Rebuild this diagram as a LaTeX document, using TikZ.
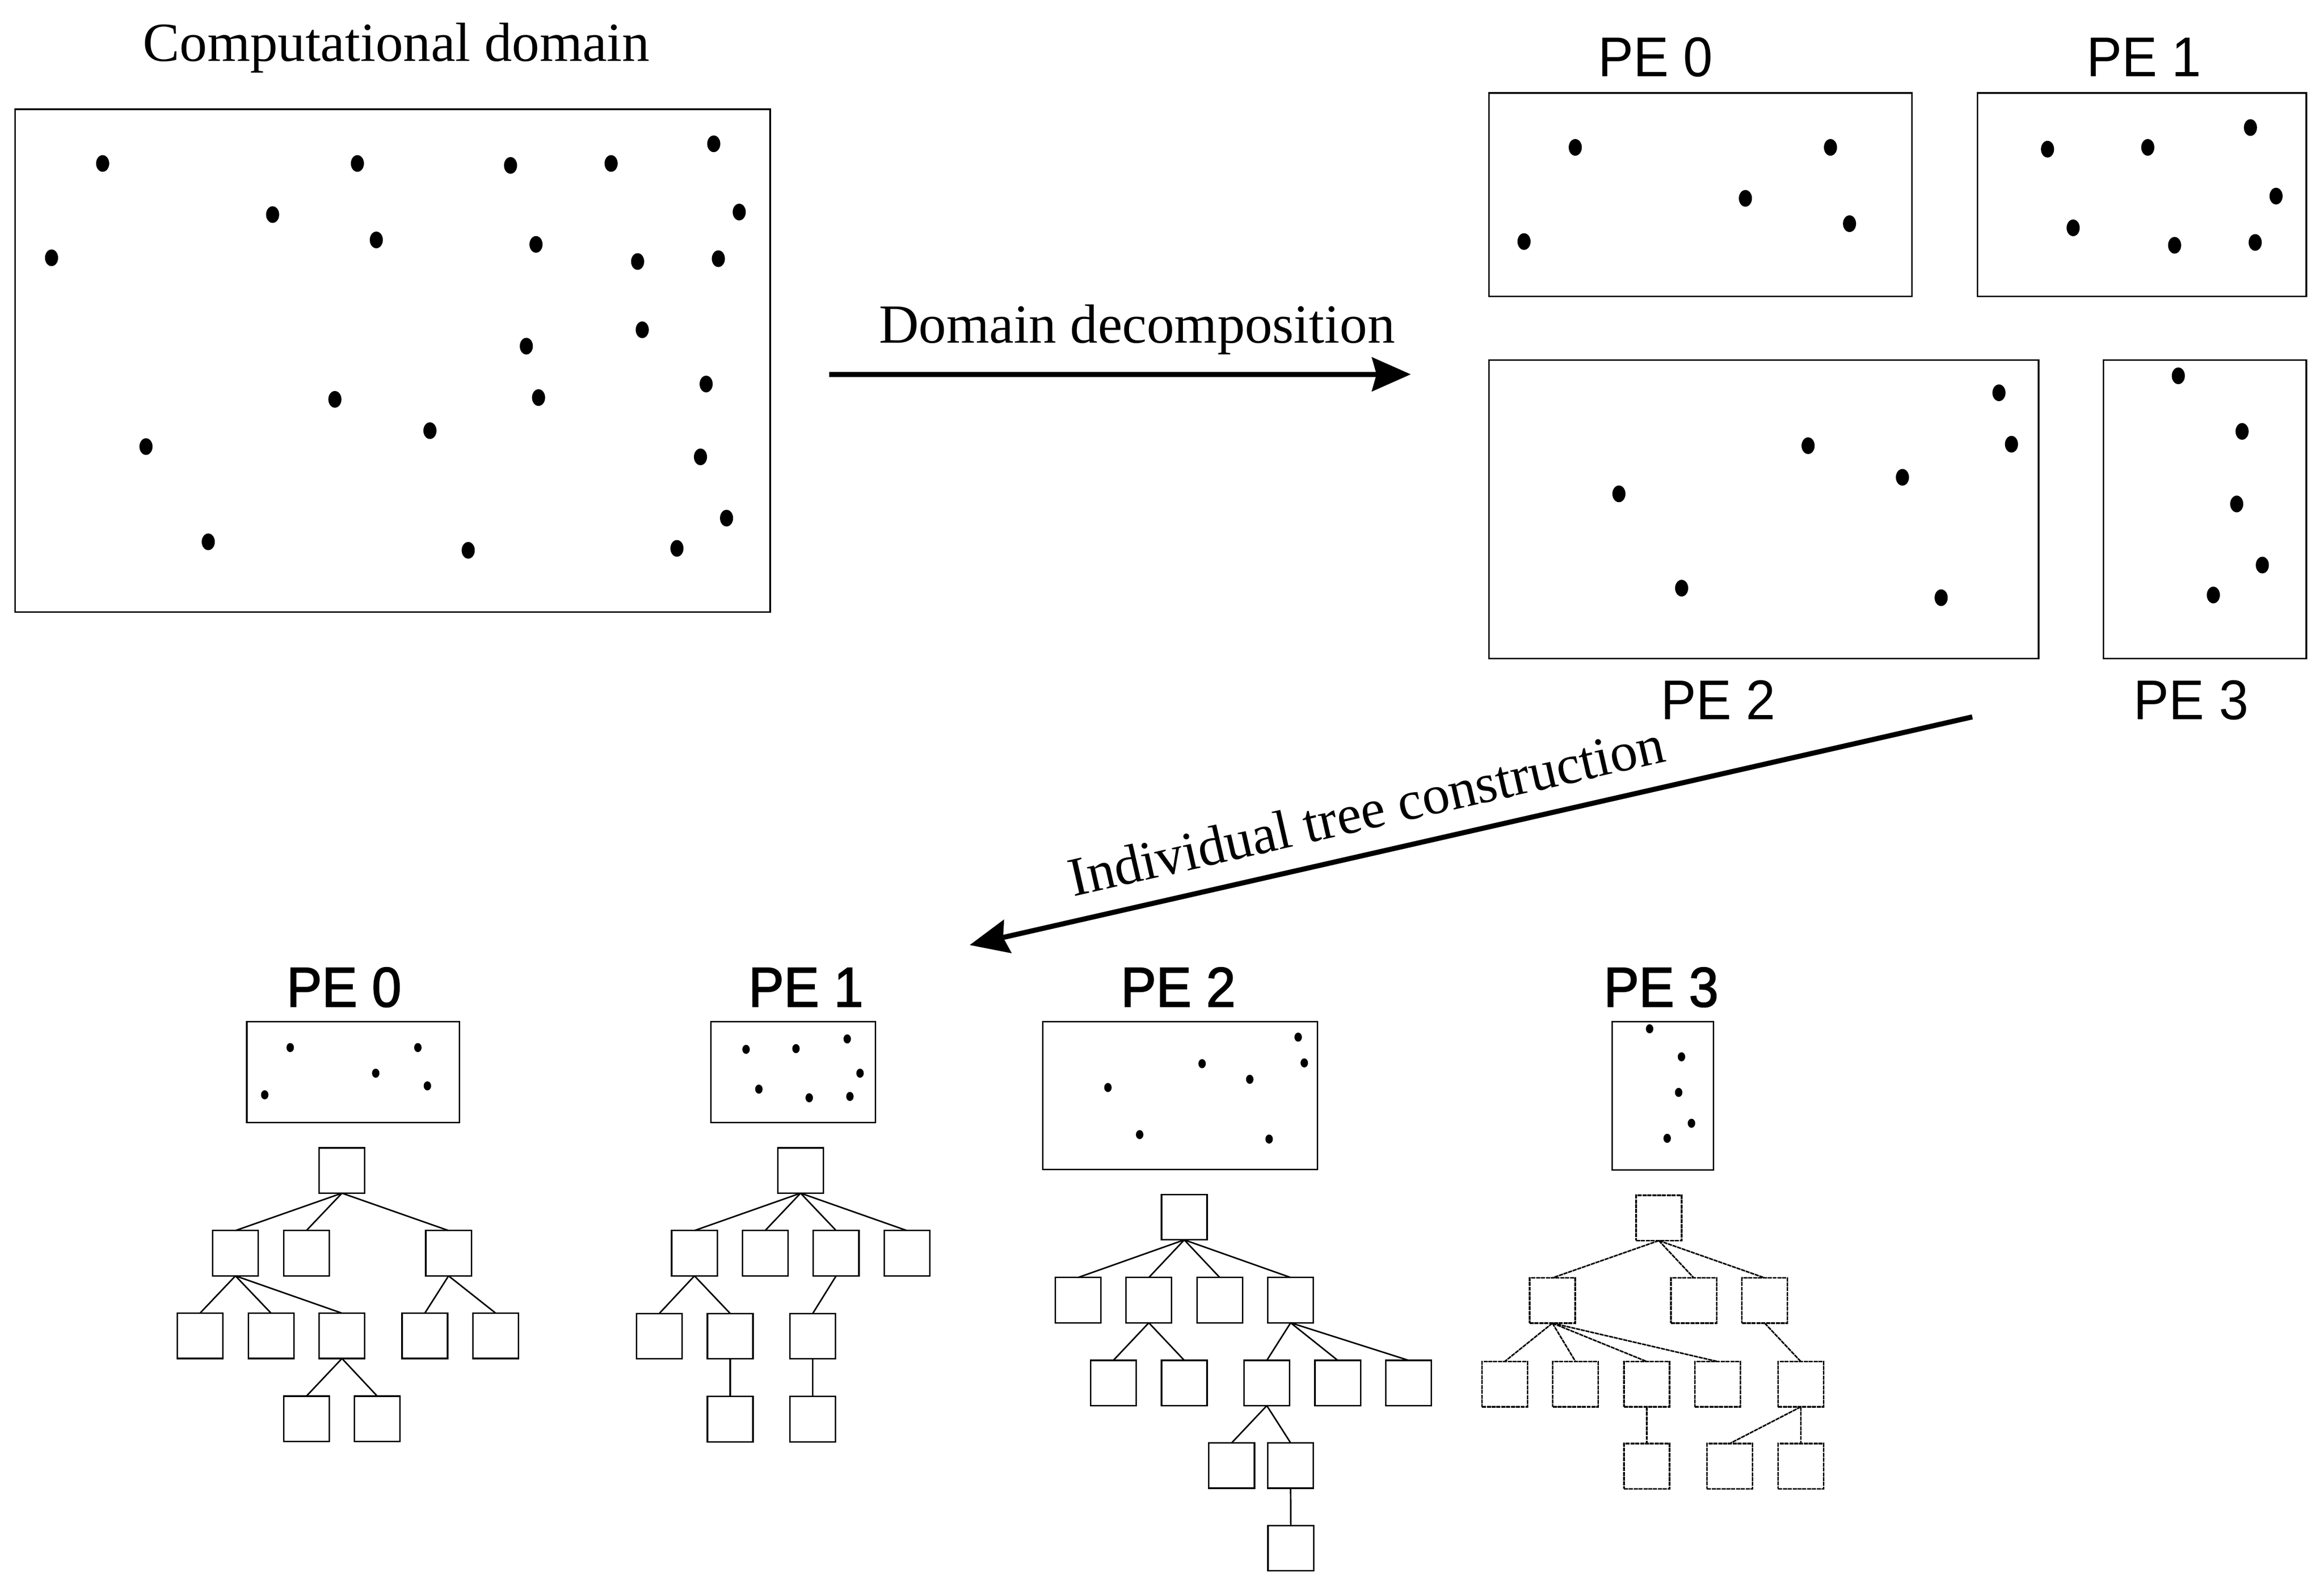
\documentclass[tikz,border=0pt]{standalone}
\usepackage{fontspec}
\setmainfont{Liberation Serif}
\newfontfamily\pesans{Liberation Sans}
\newfontfamily\pesansb[FakeBold=2]{Liberation Sans}
\usetikzlibrary{arrows.meta,fit}
\newcommand{\pelab}[1]{\scalebox{0.945}[1]{#1}}
\begin{document}
\begin{tikzpicture}[x=1pt,y=-1pt,
  region/.style={draw, line width=1.1pt, inner sep=0pt, outer sep=0pt},
  tbox/.style={draw, line width=1pt, minimum width=30.6pt, minimum height=30.4pt, inner sep=0pt, outer sep=0pt},
  tedge/.style={line width=1pt},
  dtbox/.style={tbox, line width=1pt, dash pattern=on 2.8pt off 0.45pt},
  dtedge/.style={line width=1pt, dash pattern=on 2.8pt off 0.45pt},
  serifl/.style={font=\fontsize{37}{44}\selectfont, inner sep=0pt, anchor=base},
  pel/.style={font=\pesans\fontsize{37.6}{45}\selectfont, inner sep=0pt, anchor=base},
  pelb/.style={font=\pesansb\fontsize{37.6}{45}\selectfont, inner sep=0pt, anchor=base},
  bigarrow/.style={line width=3.4pt, -{Stealth[length=26pt,width=22.6pt,inset=3pt]}}
]
\useasboundingbox (0,0) rectangle (1560,1058.04);

% ---------- computational domain ----------
\node[serifl] (ctitle) at (266.1,41.1) {Computational domain};
\node[region, fit={(10.15,73.25) (516.95,410.75)}] (dom) {};
\foreach \x/\y in {68.9/109.7,239.9/109.7,342.7/111.0,410.2/109.7,479.1/96.5,183.0/144.0,
  496.2/142.3,252.6/161.0,359.8/164.0,34.6/173.0,428.0/175.5,482.2/173.6,431.1/221.3,
  353.3/232.3,474.0/257.7,224.8/268.0,361.5/266.8,288.6/289.0,98.0/299.7,470.2/306.6,
  487.7/347.7,139.8/363.6,314.3/369.3,454.4/368.0}
  \fill (\x,\y) ellipse [x radius=4.4pt, y radius=5.6pt];

% ---------- domain decomposition arrow ----------
\coordinate (a1s) at (556.5,251.2);
\coordinate (a1e) at (947,251.2);
\draw[bigarrow] (a1s) -- (a1e);
\node[serifl] (ddlab) at (763.2,230.1) {Domain decomposition};

% ---------- decomposed domains ----------
\node[pel] (tpe0) at (1111.3,51.4) {\pelab{PE 0}};
\node[pel] (tpe1) at (1439.2,51.4) {\pelab{PE 1}};
\node[pel] (tpe2) at (1153.3,482.8) {\pelab{PE 2}};
\node[pel] (tpe3) at (1470.8,482.8) {\pelab{PE 3}};
\node[region, fit={(999.45,62.45) (1283.45,198.85)}] (d0) {};
\node[region, fit={(1327.35,62.45) (1548.05,198.85)}] (d1) {};
\node[region, fit={(999.45,241.65) (1368.35,441.95)}] (d2) {};
\node[region, fit={(1411.95,241.65) (1548.05,441.95)}] (d3) {};
\foreach \x/\y in {1057.4/98.9,1228.7/98.9,1171.6/133.1,1241.5/150.1,1023.0/162.1,
  1374.4/100.1,1441.7/98.9,1510.6/85.6,1527.8/131.6,1391.6/152.9,1459.7/164.6,1513.8/162.7,
  1341.8/263.6,1350.2/298.1,1213.7/299.1,1277.0/320.3,1086.7/331.4,1128.8/394.7,1303.0/401.1,
  1462.2/252.2,1505.0/289.5,1501.4/338.2,1518.6/379.2,1485.7/399.3}
  \fill (\x,\y) ellipse [x radius=4.4pt, y radius=5.6pt];

% ---------- individual tree construction arrow ----------
\coordinate (a2s) at (1323.9,481.1);
\coordinate (a2e) at (650.9,634.2);
\draw[bigarrow] (a2s) -- (a2e);
\node[serifl, rotate=12.85] (itlab) at (919.9,556.3) {Individual tree construction};

% ---------- bottom labels and small domains ----------
\node[pelb] (bpe0) at (230.9,675.5) {\pelab{PE 0}};
\node[pelb] (bpe1) at (541.0,675.5) {\pelab{PE 1}};
\node[pelb] (bpe2) at (790.9,675.5) {\pelab{PE 2}};
\node[pelb] (bpe3) at (1115.0,675.5) {\pelab{PE 3}};
\node[region, line width=1pt, fit={(165.7,685.7) (308.3,753.3)}] (s0) {};
\node[region, line width=1pt, fit={(477.1,685.7) (587.6,753.3)}] (s1) {};
\node[region, line width=1pt, fit={(700.0,685.6) (884.3,784.7)}] (s2) {};
\node[region, line width=1pt, fit={(1082.1,685.7) (1150.1,785.2)}] (s3) {};
\foreach \x/\y in {194.8/703.0,280.5/703.0,252.2/720.2,286.9/728.7,177.7/734.7,
  500.8/704.2,534.3/703.7,568.7/697.2,577.3/720.2,509.4/730.9,543.2/736.7,570.5/735.8,
  871.4/696.0,875.5/713.3,806.9/713.8,838.9/724.3,743.7/729.8,765.0/761.4,851.9/764.4,
  1107.3/690.4,1128.7/709.2,1126.8/733.1,1135.4/753.8,1119.1/763.9}
  \fill (\x,\y) ellipse [x radius=2.5pt, y radius=3.05pt];

% ---------- tree PE 0 ----------
\node[tbox] (p0r) at (229.55,785.5) {};
\node[tbox] (p0a) at (158.05,841.0) {};
\node[tbox] (p0b) at (205.65,841.0) {};
\node[tbox] (p0c) at (301.1,841.0) {};
\node[tbox] (p0d) at (134.25,896.45) {};
\node[tbox] (p0e) at (181.95,896.45) {};
\node[tbox] (p0f) at (229.55,896.45) {};
\node[tbox] (p0g) at (285.15,896.45) {};
\node[tbox] (p0h) at (332.75,896.45) {};
\node[tbox] (p0i) at (205.65,952.15) {};
\node[tbox] (p0j) at (253.25,952.15) {};
\foreach \c in {a,b,c} \draw[tedge] (p0r.south) -- (p0\c.north);
\foreach \c in {d,e,f} \draw[tedge] (p0a.south) -- (p0\c.north);
\foreach \c in {g,h} \draw[tedge] (p0c.south) -- (p0\c.north);
\foreach \c in {i,j} \draw[tedge] (p0f.south) -- (p0\c.north);

% ---------- tree PE 1 ----------
\node[tbox] (p1r) at (537.4,785.5) {};
\node[tbox] (p1a) at (466.15,841.0) {};
\node[tbox] (p1b) at (513.6,841.0) {};
\node[tbox] (p1c) at (561.25,841.0) {};
\node[tbox] (p1d) at (608.75,841.0) {};
\node[tbox] (p1e) at (442.55,896.65) {};
\node[tbox] (p1f) at (490.15,896.65) {};
\node[tbox] (p1g) at (545.55,896.65) {};
\node[tbox] (p1h) at (490.15,952.35) {};
\node[tbox] (p1i) at (545.55,952.35) {};
\foreach \c in {a,b,c,d} \draw[tedge] (p1r.south) -- (p1\c.north);
\foreach \c in {e,f} \draw[tedge] (p1a.south) -- (p1\c.north);
\draw[tedge] (p1c.south) -- (p1g.north);
\draw[tedge] (p1f.south) -- (p1h.north);
\draw[tedge] (p1g.south) -- (p1i.north);

% ---------- tree PE 2 ----------
\node[tbox] (p2r) at (794.95,816.85) {};
\node[tbox] (p2a) at (723.65,872.5) {};
\node[tbox] (p2b) at (771.15,872.5) {};
\node[tbox] (p2c) at (818.75,872.5) {};
\node[tbox] (p2d) at (866.35,872.5) {};
\node[tbox] (p2e) at (747.35,928.1) {};
\node[tbox] (p2f) at (794.95,928.1) {};
\node[tbox] (p2g) at (850.35,928.1) {};
\node[tbox] (p2h) at (897.95,928.1) {};
\node[tbox] (p2i) at (945.55,928.1) {};
\node[tbox] (p2j) at (826.75,983.5) {};
\node[tbox] (p2k) at (866.35,983.5) {};
\node[tbox] (p2l) at (866.45,1038.95) {};
\foreach \c in {a,b,c,d} \draw[tedge] (p2r.south) -- (p2\c.north);
\foreach \c in {e,f} \draw[tedge] (p2b.south) -- (p2\c.north);
\foreach \c in {g,h,i} \draw[tedge] (p2d.south) -- (p2\c.north);
\foreach \c in {j,k} \draw[tedge] (p2g.south) -- (p2\c.north);
\draw[tedge] (p2k.south) -- (p2l.north);

% ---------- tree PE 3 (dashed) ----------
\node[dtbox] (p3r) at (1113.5,817.35) {};
\node[dtbox] (p3a) at (1042.05,872.75) {};
\node[dtbox] (p3b) at (1136.95,872.75) {};
\node[dtbox] (p3c) at (1184.55,872.75) {};
\node[dtbox] (p3d) at (1010.0,928.9) {};
\node[dtbox] (p3e) at (1057.55,928.9) {};
\node[dtbox] (p3f) at (1105.4,928.9) {};
\node[dtbox] (p3g) at (1152.95,928.9) {};
\node[dtbox] (p3h) at (1208.8,928.9) {};
\node[dtbox] (p3i) at (1105.4,983.95) {};
\node[dtbox] (p3j) at (1161.05,983.95) {};
\node[dtbox] (p3k) at (1208.8,983.95) {};
\foreach \c in {a,b,c} \draw[dtedge] (p3r.south) -- (p3\c.north);
\foreach \c in {d,e,f,g} \draw[dtedge] (p3a.south) -- (p3\c.north);
\draw[dtedge] (p3c.south) -- (p3h.north);
\draw[dtedge] (p3f.south) -- (p3i.north);
\foreach \c in {j,k} \draw[dtedge] (p3h.south) -- (p3\c.north);
\end{tikzpicture}
\end{document}
